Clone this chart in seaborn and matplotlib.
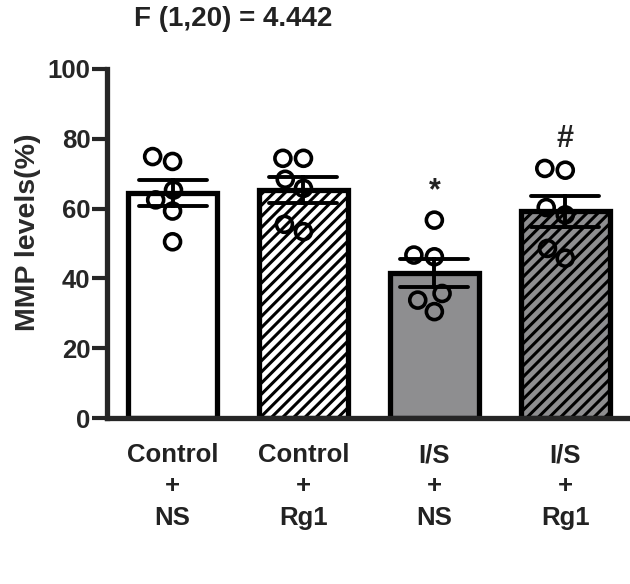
import matplotlib
matplotlib.use('Agg')
import matplotlib.pyplot as plt
import numpy as np
import pandas as pd
import seaborn as sns

# groups and individual values
groups = ['Control\n+\nNS', 'Control\n+\nRg1', 'I/S\n+\nNS', 'I/S\n+\nRg1']
ctrl_ns = [73.5, 74.9, 65.3, 62.5, 59.3, 50.5]
ctrl_rg1 = [74.4, 74.4, 68.4, 65.8, 53.4, 55.5]
is_ns = [56.7, 46.7, 46.2, 35.7, 33.8, 30.5]
is_rg1 = [71.0, 71.5, 60.3, 58.2, 48.6, 45.8]
bar_colors = ['white', 'white', '#8e8e90', '#8e8e90']
hatches = ['', '///', '', '///']
marks = {2: '*', 3: '#'}

df = pd.DataFrame({
    'group': np.repeat(groups, 6),
    'value': ctrl_ns + ctrl_rg1 + is_ns + is_rg1,
})

sns.set_style('ticks')
plt.rcParams['font.family'] = ['Liberation Sans', 'DejaVu Sans']
plt.rcParams['font.weight'] = 'bold'
plt.rcParams['hatch.linewidth'] = 2.2

fig = plt.figure(figsize=(6.3, 5.84), dpi=100)
ax = fig.add_axes([0.170, 0.284, 0.827, 0.598])

sns.barplot(data=df, x='group', y='value', order=groups, errorbar='se',
            width=0.68, color='white', edgecolor='black', linewidth=3.8,
            err_kws={'color': 'black', 'linewidth': 2.8}, capsize=0.52, ax=ax)
for bar, c, h in zip(ax.patches, bar_colors, hatches):
    bar.set_facecolor(c)
    bar.set_hatch(h)
    bar.set_zorder(1)

sns.swarmplot(data=df, x='group', y='value', order=groups, size=11.5,
              marker='o', facecolor='white', edgecolor='black', linewidth=2.6,
              ax=ax, zorder=3)
for coll in ax.collections:
    coll.set_facecolor('none')
    coll.set_edgecolor('black')

# significance marks above the highest point of each group
for i, sym in marks.items():
    top = df[df['group'] == groups[i]]['value'].max()
    ax.text(i, top + 4, sym, ha='center', va='bottom', fontsize=22,
            fontweight='bold', color='#222222')

ax.set_ylim(0, 100)
ax.set_xlim(-0.5, 3.48)
ax.set_yticks([0, 20, 40, 60, 80, 100])
ax.set_xlabel('')
ax.set_ylabel('MMP levels(%)', fontsize=20.5, fontweight='bold',
              color='#2a2a2a')
ax.yaxis.set_label_coords(-0.127, 0.533)
ax.tick_params(axis='y', length=11, width=3, labelsize=18.5, pad=1)
ax.tick_params(axis='x', length=0, labelsize=18.5, pad=18)
for lbl in ax.get_xticklabels() + ax.get_yticklabels():
    lbl.set_fontweight('bold')
for lbl in ax.get_xticklabels():
    lbl.set_color('#222222')
    lbl.set_linespacing(1.38)
sns.despine(ax=ax)
ax.spines['left'].set_linewidth(3.8)
ax.spines['bottom'].set_linewidth(3.8)

fig.text(0.37, 0.967, 'F (1,20) = 4.442', ha='center', va='center',
         fontsize=20, fontweight='bold', color='#222222')

fig.savefig('out.png', dpi=100)
